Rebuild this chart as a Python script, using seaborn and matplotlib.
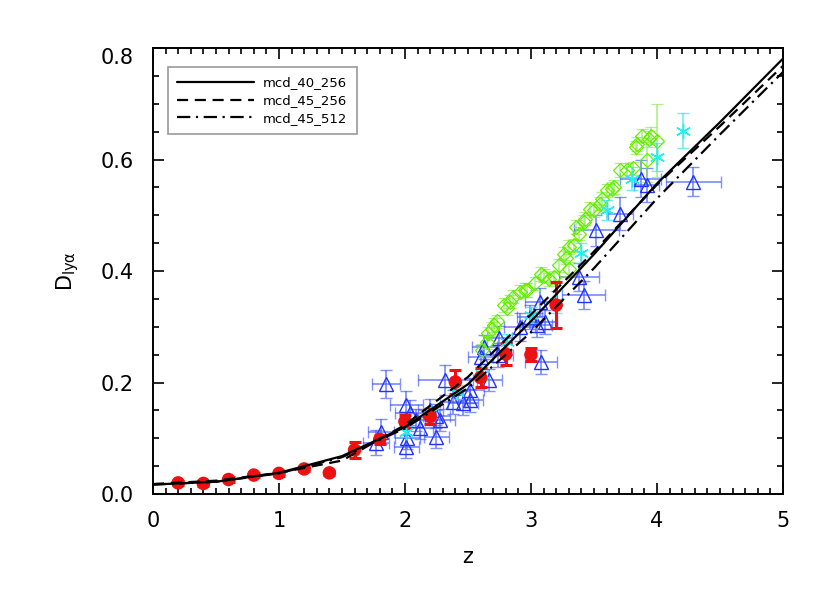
import numpy as np
import pandas as pd
import seaborn as sns
import matplotlib.pyplot as plt
import matplotlib.ticker as ticker

# model curves
z_model = [0.0, 0.5, 1.0, 1.5, 2.0, 2.5, 3.0, 3.5, 4.0, 4.5, 5.0]
d_40_256 = [0.017, 0.022, 0.038, 0.068, 0.120, 0.197, 0.310, 0.430, 0.557, 0.667, 0.781]
d_45_256 = [0.018, 0.024, 0.038, 0.060, 0.124, 0.210, 0.322, 0.435, 0.555, 0.660, 0.768]
d_45_512 = [0.017, 0.022, 0.037, 0.066, 0.118, 0.190, 0.290, 0.405, 0.530, 0.645, 0.757]
model_names = ['mcd_40_256', 'mcd_45_256', 'mcd_45_512']

# red filled circles
z_red = [0.2, 0.4, 0.6, 0.8, 1.0, 1.2, 1.4, 1.6, 1.8, 2.0, 2.2, 2.4, 2.6, 2.8, 3.0, 3.2]
d_red = [0.020, 0.019, 0.026, 0.034, 0.037, 0.045, 0.038, 0.079, 0.098, 0.130,
         0.139, 0.201, 0.209, 0.251, 0.250, 0.339]
e_red = [0.004, 0.004, 0.004, 0.004, 0.004, 0.004, 0.004, 0.014, 0.008, 0.012,
         0.014, 0.021, 0.017, 0.020, 0.012, 0.041]

# blue triangles
z_tri = [1.77, 1.81, 1.85, 2.01, 2.01, 2.02, 2.04, 2.09, 2.12, 2.20, 2.25, 2.25, 2.28,
         2.32, 2.38, 2.46, 2.52, 2.52, 2.60, 2.63, 2.67, 2.74, 2.75, 2.91, 2.99, 3.05,
         3.07, 3.08, 3.11, 3.38, 3.42, 3.52, 3.71, 3.87, 3.92, 4.29]
d_tri = [0.092, 0.112, 0.198, 0.085, 0.160, 0.100, 0.146, 0.133, 0.118, 0.151, 0.103,
         0.140, 0.133, 0.204, 0.165, 0.163, 0.186, 0.168, 0.246, 0.264, 0.205, 0.249,
         0.280, 0.300, 0.318, 0.303, 0.345, 0.237, 0.309, 0.389, 0.357, 0.473, 0.503,
         0.566, 0.554, 0.560]
xe_tri = [0.10, 0.10, 0.11, 0.10, 0.13, 0.10, 0.12, 0.10, 0.10, 0.10, 0.10, 0.11, 0.12,
          0.22, 0.10, 0.12, 0.11, 0.10, 0.10, 0.10, 0.10, 0.12, 0.10, 0.12, 0.10, 0.12,
          0.12, 0.13, 0.10, 0.16, 0.17, 0.18, 0.10, 0.16, 0.10, 0.22]
ye_tri = [0.022, 0.022, 0.025, 0.020, 0.025, 0.020, 0.022, 0.020, 0.020, 0.020, 0.020,
          0.022, 0.020, 0.027, 0.022, 0.022, 0.022, 0.020, 0.022, 0.022, 0.020, 0.022,
          0.022, 0.025, 0.022, 0.022, 0.025, 0.022, 0.022, 0.025, 0.025, 0.028, 0.030,
          0.033, 0.030, 0.026]

# green diamonds
z_dia = [2.61, 2.65, 2.66, 2.69, 2.71, 2.73, 2.79, 2.81, 2.83, 2.86, 2.91, 2.95, 2.97,
         3.03, 3.08, 3.10, 3.14, 3.18, 3.22, 3.26, 3.28, 3.30, 3.30, 3.34, 3.36, 3.38,
         3.42, 3.43, 3.47, 3.50, 3.55, 3.56, 3.60, 3.64, 3.66, 3.71, 3.76, 3.81, 3.83,
         3.84, 3.88, 3.92, 3.94, 3.95, 4.00]
d_dia = [0.258, 0.272, 0.288, 0.296, 0.303, 0.310, 0.339, 0.333, 0.345, 0.354, 0.363,
         0.366, 0.366, 0.378, 0.395, 0.392, 0.385, 0.389, 0.410, 0.431, 0.424, 0.404,
         0.443, 0.446, 0.479, 0.467, 0.488, 0.494, 0.512, 0.509, 0.521, 0.530, 0.545,
         0.548, 0.551, 0.581, 0.581, 0.584, 0.622, 0.628, 0.643, 0.599, 0.637, 0.643,
         0.634]
e_dia = [0.012] * 41 + [0.040, 0.015, 0.015, 0.065]

# cyan asterisks
z_ast = [2.01, 2.21, 2.41, 2.61, 2.81, 3.00, 3.20, 3.40, 3.60, 3.80, 4.00, 4.21]
d_ast = [0.112, 0.147, 0.183, 0.216, 0.272, 0.321, 0.345, 0.433, 0.509, 0.566, 0.604, 0.652]
e_ast = [0.010, 0.010, 0.012, 0.012, 0.015, 0.015, 0.020, 0.018, 0.018, 0.020, 0.025, 0.031]

sns.set_style('ticks')
plt.rcParams['font.family'] = ['DejaVu Sans']
plt.rcParams['mathtext.fontset'] = 'dejavusans'
for key in ['text.color', 'axes.labelcolor', 'xtick.color', 'ytick.color', 'axes.edgecolor']:
    plt.rcParams[key] = 'black'

fig = plt.figure(figsize=(8.3, 5.93), dpi=100)
ax = fig.add_axes([0.1843, 0.1669, 0.759, 0.752])

ax.errorbar(z_tri, d_tri, xerr=xe_tri, yerr=ye_tri, fmt='^', ms=9.5, mfc='none',
            mec='#2233ff', mew=1.0, ecolor=(0.25, 0.35, 1.0, 0.65), elinewidth=1.3,
            capsize=4, capthick=1.3, zorder=2)
ax.errorbar(z_dia, d_dia, yerr=e_dia, fmt='D', ms=7.5, mfc='none', mec='#66ee00',
            mew=0.9, ecolor=(0.55, 0.92, 0.35, 0.7), elinewidth=1.2, capsize=4,
            capthick=1.2, zorder=2)
ax.errorbar(z_ast, d_ast, yerr=e_ast, marker=(6, 2, 0), linestyle='none', ms=11,
            mec='#22eeee', mew=1.0, ecolor=(0.2, 0.9, 0.9, 0.7), elinewidth=1.2,
            capsize=4, capthick=1.2, zorder=3)
ax.errorbar(z_red, d_red, yerr=e_red, fmt='none', ecolor='#ee1111', elinewidth=2.2,
            capsize=4, capthick=2.2, zorder=3)
sns.scatterplot(x=z_red, y=d_red, color='#ee1111', s=95, edgecolor='none',
                ax=ax, zorder=4)

df_model = pd.DataFrame({
    'z': z_model * 3,
    'D': d_40_256 + d_45_256 + d_45_512,
    'model': [m for m in model_names for _ in z_model],
})
sns.lineplot(data=df_model, x='z', y='D', style='model', color='black',
             dashes={'mcd_40_256': '', 'mcd_45_256': (5, 3),
                     'mcd_45_512': (6, 2.5, 1, 2.5)},
             linewidth=1.6, estimator=None, sort=False, ax=ax, zorder=5)

handles, labels = ax.get_legend_handles_labels()
leg = ax.legend(handles=handles, labels=labels, title=None, loc='upper left',
                bbox_to_anchor=(0.024, 0.957), borderaxespad=0, fontsize=9.5,
                handlelength=5.8, handletextpad=0.7, fancybox=False, framealpha=1,
                edgecolor='#999999', labelspacing=0.35, borderpad=0.7)
leg.get_frame().set_linewidth(1.2)

ax.set_xlim(0, 5)
ax.set_ylim(0, 0.8)
ax.xaxis.set_major_locator(ticker.MultipleLocator(1))
ax.xaxis.set_minor_locator(ticker.MultipleLocator(0.1))
ax.yaxis.set_major_locator(ticker.MultipleLocator(0.2))
ax.yaxis.set_minor_locator(ticker.MultipleLocator(0.05))
ax.xaxis.set_major_formatter(ticker.FormatStrFormatter('%d'))
ax.yaxis.set_major_formatter(ticker.FormatStrFormatter('%.1f'))
ax.tick_params(which='both', direction='in', top=True, right=True, width=1.2,
               labelsize=15, color='black')
ax.tick_params(which='major', length=8)
ax.tick_params(which='minor', length=4)
ax.tick_params(axis='x', pad=12)
ax.tick_params(axis='y', pad=14)
for s in ax.spines.values():
    s.set_linewidth(1.4)
    s.set_color('black')

ax.set_xlabel('z', fontsize=15, labelpad=12)
ax.set_ylabel(r'D$_{\mathregular{ly\alpha}}$', fontsize=15, labelpad=14)

fig.canvas.draw()
for lab in ax.get_yticklabels():
    if lab.get_text() == '0.8':
        lab.set_verticalalignment('top')
    elif lab.get_text() == '0.0':
        lab.set_verticalalignment('center_baseline')

fig.savefig('out.png', dpi=100, facecolor='white')
